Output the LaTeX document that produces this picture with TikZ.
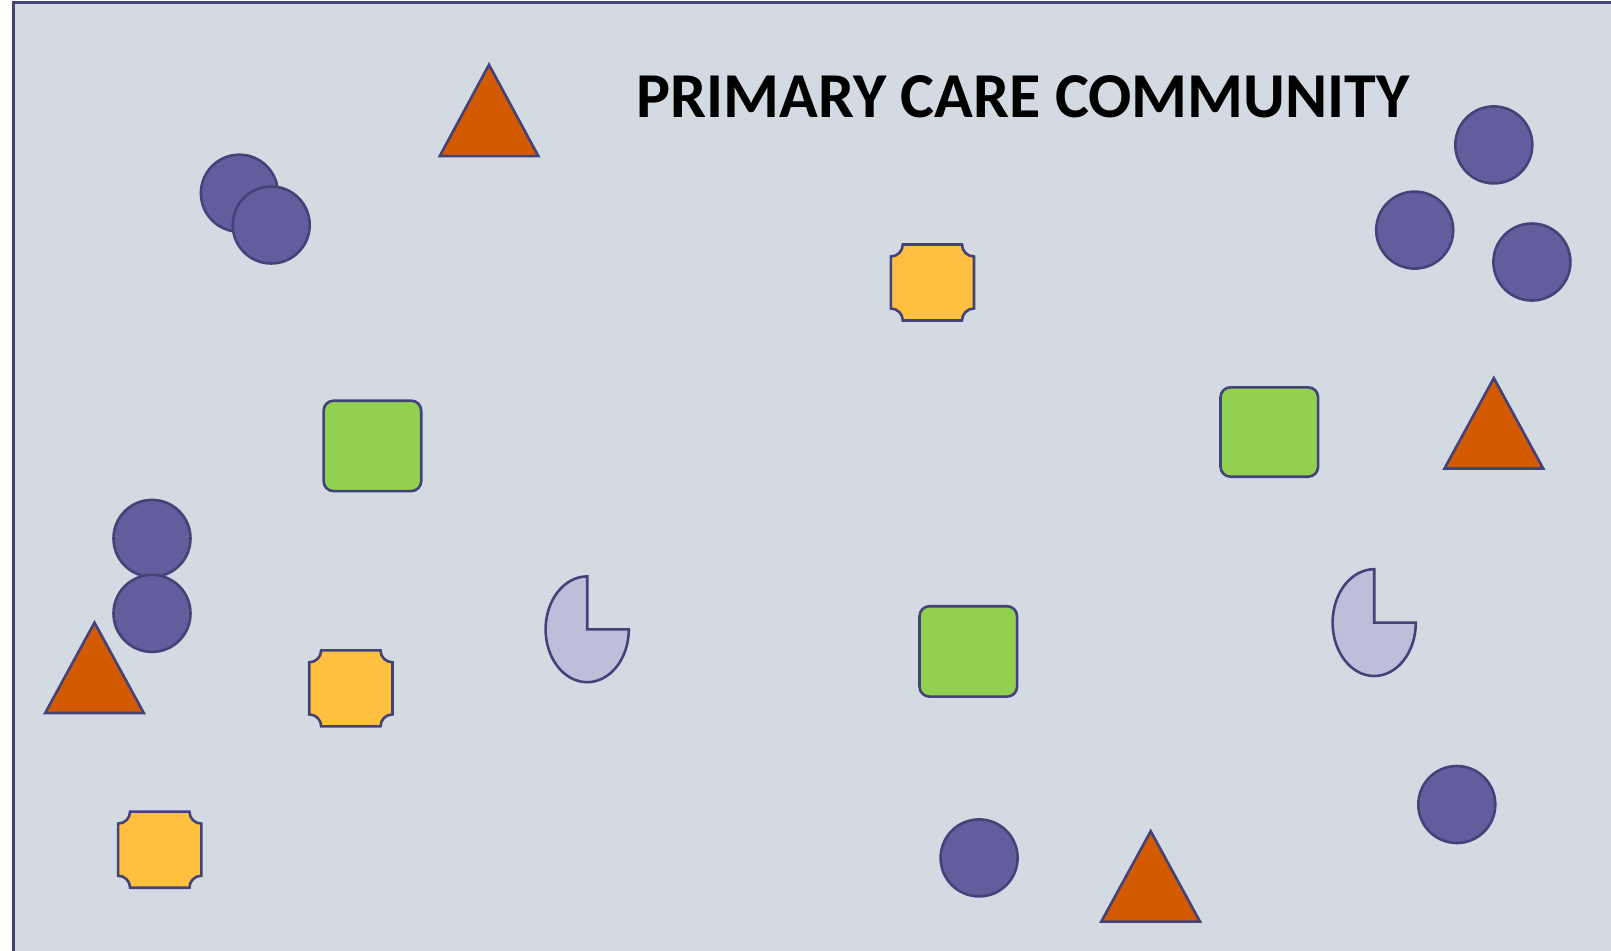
\documentclass[tikz,border=0pt]{standalone}
\usepackage{fontspec}
\setmainfont{Carlito}
\definecolor{canvas}{HTML}{D3DAE1}
\definecolor{edge}{HTML}{43437A}
\definecolor{patient}{HTML}{625E9D}
\definecolor{doctor}{HTML}{D45A00}
\definecolor{clinic}{HTML}{92D050}
\definecolor{pharmacy}{HTML}{FFC040}
\definecolor{carer}{HTML}{BEBEDB}
\tikzset{
  outline/.style={draw=edge, line width=1.3pt},
  patient/.style={outline, circle, fill=patient, minimum size=38.5pt, inner sep=0pt},
  doctor/.style={outline, fill=doctor},
  clinic/.style={outline, fill=clinic, rounded corners=5pt},
  pharmacy/.style={outline, fill=pharmacy},
  carer/.style={outline, fill=carer}
}
\begin{document}
\begin{tikzpicture}[x=0.5pt,y=0.5pt]
  \useasboundingbox (0,0) rectangle (1611,950);
  \clip (0,0) rectangle (1611,950);

  % Community area
  \filldraw[fill=canvas, draw=edge, line width=1.5pt] (13,947) rectangle (1616,-10);
  \node[font=\bfseries\fontsize{32}{38}\selectfont] (title) at (1023,853) {PRIMARY CARE COMMUNITY};

  % Patients
  \node[patient] (p1) at (239.4,756.8) {};
  \node[patient] (p2) at (271.2,725) {};
  \node[patient] (p3) at (1493.8,805.1) {};
  \node[patient] (p4) at (1414.7,719.9) {};
  \node[patient] (p5) at (1531.9,688) {};
  \node[patient] (p6) at (152,411.6) {};
  \node[patient] (p7) at (152,336.6) {};
  \node[patient] (p8) at (979.1,92.1) {};
  \node[patient] (p9) at (1456.8,145.5) {};

  % Doctors
  \filldraw[doctor] (439.7,793.8) -- (489,885.3) -- (538.4,793.8) -- cycle;
  \filldraw[doctor] (1444.5,481.5) -- (1493.8,571.9) -- (1543.2,481.5) -- cycle;
  \filldraw[doctor] (45.2,237) -- (94.5,327.4) -- (143.8,237) -- cycle;
  \filldraw[doctor] (1101.3,28.4) -- (1150.7,118.8) -- (1200,28.4) -- cycle;

  % Clinics
  \filldraw[clinic] (323.6,458.9) rectangle (421.2,549.3);
  \filldraw[clinic] (1220.5,473.3) rectangle (1318.1,562.7);
  \filldraw[clinic] (919.5,253.4) rectangle (1017.1,343.8);

  % Pharmacies
  \filldraw[pharmacy] (890.8,693.5) arc[start angle=270, end angle=360, radius=12]
    -- (962,705.5) arc[start angle=180, end angle=270, radius=12]
    -- (974,641.5) arc[start angle=90, end angle=180, radius=12]
    -- (902.8,629.5) arc[start angle=0, end angle=90, radius=12] -- cycle;
  \filldraw[pharmacy] (309.2,287.7) arc[start angle=270, end angle=360, radius=12]
    -- (380.5,299.7) arc[start angle=180, end angle=270, radius=12]
    -- (392.5,235.6) arc[start angle=90, end angle=180, radius=12]
    -- (321.2,223.6) arc[start angle=0, end angle=90, radius=12] -- cycle;
  \filldraw[pharmacy] (118.1,126.4) arc[start angle=270, end angle=360, radius=12]
    -- (189.4,138.4) arc[start angle=180, end angle=270, radius=12]
    -- (201.4,74.3) arc[start angle=90, end angle=180, radius=12]
    -- (130.1,62.3) arc[start angle=0, end angle=90, radius=12] -- cycle;

  % Carers
  \filldraw[carer] (587.2,320.7) -- ++(0,52.9)
    arc[start angle=90, end angle=360, x radius=41.6, y radius=52.9] -- cycle;
  \filldraw[carer] (1374.2,327.4) -- ++(0,53.4)
    arc[start angle=90, end angle=360, x radius=41.6, y radius=53.4] -- cycle;
\end{tikzpicture}
\end{document}
